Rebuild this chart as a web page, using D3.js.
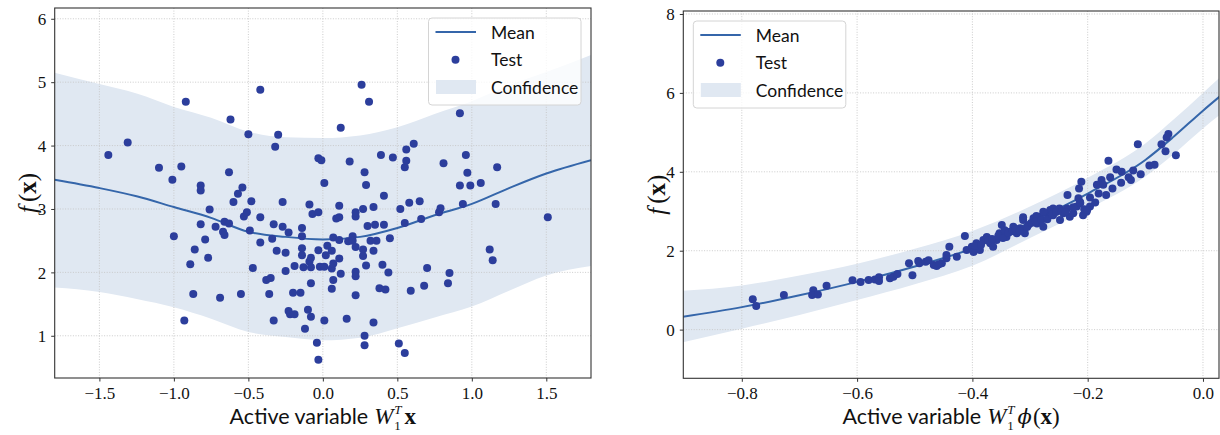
<!DOCTYPE html>
<html><head><meta charset="utf-8">
<script src="https://cdn.jsdelivr.net/npm/d3@7"></script>
<style>body{margin:0;background:#fff}svg{display:block}</style>
</head><body><svg id="c" width="1220" height="435"></svg>
<script>
// ---------------- DATA ----------------
const legendLabels = ["Mean", "Test", "Confidence"];

// Left panel
const leftXTicks = [-1.5, -1.0, -0.5, 0.0, 0.5, 1.0, 1.5];
const leftXTickLabels = ["\u22121.5", "\u22121.0", "\u22120.5", "0.0", "0.5", "1.0", "1.5"];
const leftYTicks = [1, 2, 3, 4, 5, 6];
const leftYTickLabels = ["1", "2", "3", "4", "5", "6"];
const leftCurveX = [-1.8, -1.5, -1.25, -1.0, -0.75, -0.5, -0.25, 0.0, 0.25, 0.5, 0.75, 1.0, 1.25, 1.5, 1.8];
const leftMean  = [3.46, 3.33, 3.20, 3.03, 2.86, 2.64, 2.56, 2.52, 2.56, 2.70, 2.90, 3.08, 3.33, 3.56, 3.77];
const leftUpper = [5.15, 4.97, 4.82, 4.61, 4.44, 4.22, 4.13, 4.12, 4.16, 4.29, 4.50, 4.70, 4.95, 5.16, 5.43];
const leftLower = [1.76, 1.69, 1.58, 1.45, 1.27, 1.06, 0.98, 0.93, 0.97, 1.12, 1.29, 1.46, 1.71, 1.95, 2.10];
const leftTestX = [-1.44,-1.31,-1.10,-1.01,-0.95,-0.92,-1.00,-0.86,-0.89,-0.87,-0.93,-0.82,-0.82,-0.82,-0.79,-0.77,-0.76,-0.72,-0.69,-0.67,
  -0.66,-0.66,-0.63,-0.63,-0.62,-0.60,-0.57,-0.55,-0.54,-0.53,-0.51,-0.50,-0.49,-0.48,-0.47,-0.42,-0.42,-0.42,-0.38,-0.35,
  -0.36,-0.34,-0.33,-0.33,-0.32,-0.31,-0.30,-0.27,-0.27,-0.25,-0.25,-0.23,-0.23,-0.22,-0.19,-0.20,-0.19,-0.15,-0.14,-0.14,
  -0.14,-0.14,-0.13,-0.12,-0.10,-0.09,-0.09,-0.08,-0.08,-0.08,-0.08,-0.07,-0.03,-0.04,-0.03,-0.03,-0.01,-0.03,-0.02,0.01,
  0.01,0.01,0.02,0.03,0.06,0.06,0.07,0.06,0.07,0.07,0.09,0.11,0.11,0.11,0.11,0.12,0.12,0.16,0.17,0.18,
  0.20,0.20,0.22,0.22,0.22,0.22,0.22,0.22,0.26,0.27,0.27,0.27,0.28,0.28,0.28,0.29,0.29,0.30,0.31,0.32,
  0.34,0.34,0.34,0.35,0.36,0.38,0.39,0.40,0.41,0.41,0.42,0.44,0.45,0.47,0.51,0.52,0.55,0.55,0.55,0.56,
  0.56,0.58,0.59,0.61,0.65,0.66,0.68,0.70,0.78,0.79,0.81,0.84,0.85,0.92,0.92,0.94,0.96,0.97,0.99,1.06,
  1.12,1.14,1.16,1.17,1.51];
const leftTestY = [3.85,4.05,3.65,3.46,3.67,4.69,2.57,2.36,2.13,1.66,1.24,3.37,3.29,2.76,2.52,2.23,2.99,2.72,1.60,2.64,
  2.59,2.80,2.77,3.58,4.41,3.11,3.24,1.66,3.34,2.88,2.95,4.18,2.66,3.12,2.07,2.47,4.88,2.87,1.88,1.91,
  1.66,2.53,2.76,1.24,3.98,2.34,4.17,3.11,2.72,2.31,2.02,2.63,1.39,1.34,1.34,1.68,2.10,1.68,2.70,2.57,
  2.38,2.27,2.08,1.11,1.41,2.17,3.07,1.83,1.30,2.23,2.08,2.92,2.95,0.89,2.35,3.80,3.77,0.62,2.09,2.09,
  1.24,3.41,2.27,2.42,2.34,1.74,1.88,2.06,2.14,2.55,2.85,2.87,3.05,2.51,2.22,1.98,4.28,1.27,2.49,3.75,
  2.57,2.50,2.88,2.95,2.40,2.01,1.94,1.64,4.96,3.00,2.36,2.26,1.00,0.85,3.58,3.38,2.11,2.73,4.69,2.50,
  3.03,2.34,1.21,2.75,2.50,1.75,3.85,2.12,3.21,2.75,1.73,2.00,2.54,3.81,0.88,3.00,2.78,0.73,3.66,3.76,
  3.94,3.10,1.71,4.03,3.12,2.84,1.79,2.07,2.95,3.01,3.72,1.83,1.99,4.51,3.37,3.08,3.85,3.57,3.37,3.41,
  2.36,2.19,3.08,3.66,2.87];

// Right panel
const rightXTicks = [-0.8, -0.6, -0.4, -0.2, 0.0];
const rightXTickLabels = ["\u22120.8", "\u22120.6", "\u22120.4", "\u22120.2", "0.0"];
const rightYTicks = [0, 2, 4, 6, 8];
const rightYTickLabels = ["0", "2", "4", "6", "8"];
const rightCurveX = [-0.905, -0.8, -0.7, -0.6, -0.5, -0.4, -0.3, -0.2, -0.1, -0.05, 0.0, 0.03];
const rightMean  = [0.32, 0.57, 0.87, 1.21, 1.60, 2.06, 2.72, 3.45, 4.30, 4.90, 5.55, 5.92];
const rightUpper = [0.98, 1.12, 1.37, 1.67, 2.05, 2.50, 3.12, 3.85, 4.72, 5.34, 6.00, 6.40];
const rightLower = [-0.33, 0.02, 0.37, 0.75, 1.15, 1.62, 2.32, 3.05, 3.88, 4.46, 5.10, 5.45];
const rightTestX = [-0.781,-0.775,-0.727,-0.676,-0.678,-0.668,-0.653,-0.608,-0.594,-0.580,-0.569,-0.562,-0.562,-0.543,-0.537,-0.530,-0.510,-0.504,-0.494,-0.492,
  -0.481,-0.476,-0.467,-0.462,-0.453,-0.458,-0.445,-0.440,-0.445,-0.427,-0.413,-0.410,-0.401,-0.398,-0.393,-0.387,-0.381,-0.375,-0.369,-0.364,
  -0.358,-0.353,-0.349,-0.344,-0.341,-0.335,-0.329,-0.323,-0.317,-0.312,-0.309,-0.303,-0.294,-0.288,-0.283,-0.277,-0.271,-0.265,-0.260,-0.254,
  -0.248,-0.242,-0.236,-0.231,-0.225,-0.219,-0.213,-0.208,-0.202,-0.196,-0.113,-0.164,-0.060,-0.063,-0.072,-0.065,-0.047,-0.093,-0.084,-0.108,
  -0.121,-0.129,-0.125,-0.141,-0.150,-0.142,-0.161,-0.157,-0.176,-0.184,-0.173,-0.168,-0.211,-0.215,-0.235,-0.187,-0.196,-0.181,-0.216,-0.213,
  -0.206,-0.201,-0.225,-0.260,-0.249,-0.265,-0.277,-0.289,-0.312,-0.395,-0.385,-0.372,-0.366,-0.355,-0.347,-0.338,-0.330,-0.325,-0.318,-0.305,
  -0.298,-0.290,-0.280,-0.270,-0.262,-0.255,-0.245,-0.238];
const rightTestY = [0.77,0.60,0.88,1.00,0.88,0.89,1.11,1.25,1.21,1.26,1.27,1.33,1.23,1.30,1.34,1.41,1.68,1.38,1.74,1.68,
  1.72,1.76,1.64,1.61,1.68,1.66,1.81,2.10,1.89,1.85,2.37,2.02,2.10,1.97,2.19,2.02,2.27,2.35,2.19,2.10,
  2.27,2.44,2.65,2.52,2.35,2.48,2.61,2.44,2.57,2.78,2.44,2.65,2.82,2.69,2.86,2.61,2.95,3.03,2.90,3.03,
  2.78,2.95,3.07,2.86,2.95,3.12,3.20,2.90,2.99,3.12,4.70,4.28,4.96,4.87,4.70,4.52,4.42,4.16,4.18,3.94,
  4.03,3.86,3.79,4.00,4.06,3.72,3.86,3.58,3.79,3.67,3.67,3.41,3.75,3.58,3.41,3.22,3.35,3.45,3.33,3.23,
  3.05,3.03,3.10,3.07,3.07,2.99,2.99,2.88,2.85,2.12,2.15,2.25,2.30,2.38,2.32,2.45,2.50,2.55,2.50,2.60,
  2.70,2.74,2.78,2.80,2.92,2.98,3.00,2.98];

// ---------------- STYLE / LAYOUT ----------------
const C = {point:"#2c3e9c", mean:"#3566aa", band:"#e0e8f2", grid:"#c6c6c6", spine:"#333", text:"#111"};
const SERIF = "'Liberation Serif','DejaVu Serif',serif";
const SANS = "Lato,'Open Sans',sans-serif";

const svg = d3.select("#c");

const subSup = [{t:"T",fam:SERIF,size:13,style:"italic",dy:-10,gap:1},{t:"1",fam:SERIF,size:13,dy:6,stack:true}];
const panels = [
  {id:"L", box:{x0:54.7,x1:591,y0:8,y1:378}, xDom:[-1.8,1.8], yDom:[0.334,6.17],
   xt:leftXTicks, xtl:leftXTickLabels, yt:leftYTicks, ytl:leftYTickLabels,
   cx:leftCurveX, mean:leftMean, up:leftUpper, lo:leftLower, px:leftTestX, py:leftTestY,
   legend:{side:"right"},
   xlabel:[{t:"Active variable",fam:SANS,size:21.5},{t:"W",fam:SERIF,size:23,style:"italic",gap:6},
           ...subSup, {t:"x",fam:SERIF,size:23,weight:"bold",gap:3}]},
  {id:"R", box:{x0:683.3,x1:1219,y0:11,y1:378.3}, xDom:[-0.9015,0.0278], yDom:[-1.234,8.076],
   xt:rightXTicks, xtl:rightXTickLabels, yt:rightYTicks, ytl:rightYTickLabels,
   cx:rightCurveX, mean:rightMean, up:rightUpper, lo:rightLower, px:rightTestX, py:rightTestY,
   legend:{side:"left"},
   xlabel:[{t:"Active variable",fam:SANS,size:21.5},{t:"W",fam:SERIF,size:23,style:"italic",gap:6},
           ...subSup,
           {t:"\u03D5",fam:"'DejaVu Serif',serif",size:21,style:"italic",gap:3},{t:"(",fam:SERIF,size:23,gap:1},
           {t:"x",fam:SERIF,size:23,weight:"bold"},{t:")",fam:SERIF,size:23}]}
];

const ylabelSegs = [{t:"f",fam:SERIF,size:25,style:"italic"},{t:"(",fam:SERIF,size:25,gap:4},
                    {t:"x",fam:SERIF,size:25,weight:"bold"},{t:")",fam:SERIF,size:25}];

function mathLabel(parent, segs){
  const g = parent.append("g");
  let x = 0, prevX = 0;
  segs.forEach(s => {
    const sx = s.stack ? prevX : x + (s.gap||0);
    const t = g.append("text").attr("x", sx).attr("y", s.dy||0)
      .attr("font-family", s.fam).attr("font-size", s.size)
      .attr("font-style", s.style||"normal").attr("font-weight", s.weight||"normal")
      .attr("fill", C.text).text(s.t);
    const w = t.node().getComputedTextLength();
    x = s.stack ? Math.max(x, sx + w) : sx + w;
    prevX = sx;
  });
  return {g, width:x};
}

panels.forEach(p => {
  const b = p.box;
  const x = d3.scaleLinear().domain(p.xDom).range([b.x0, b.x1]);
  const y = d3.scaleLinear().domain(p.yDom).range([b.y1, b.y0]);
  const clipId = "clip" + p.id;
  svg.append("clipPath").attr("id", clipId).append("rect")
    .attr("x", b.x0).attr("y", b.y0).attr("width", b.x1-b.x0).attr("height", b.y1-b.y0);
  const plot = svg.append("g").attr("clip-path", `url(#${clipId})`);

  // confidence band
  const area = d3.area().x((d,i)=>x(p.cx[i])).y0((d,i)=>y(p.lo[i])).y1((d,i)=>y(p.up[i])).curve(d3.curveMonotoneX);
  plot.append("path").datum(p.cx).attr("d", area).attr("fill", C.band);

  // grid
  plot.selectAll(".gx").data(p.xt).join("line").attr("class","gx")
    .attr("x1", d=>x(d)).attr("x2", d=>x(d)).attr("y1", b.y0).attr("y2", b.y1)
    .attr("stroke", C.grid).attr("stroke-width", 0.9).attr("stroke-dasharray", "1,1.6");
  plot.selectAll(".gy").data(p.yt).join("line").attr("class","gy")
    .attr("y1", d=>y(d)).attr("y2", d=>y(d)).attr("x1", b.x0).attr("x2", b.x1)
    .attr("stroke", C.grid).attr("stroke-width", 0.9).attr("stroke-dasharray", "1,1.6");

  // mean line
  const line = d3.line().x((d,i)=>x(p.cx[i])).y((d,i)=>y(p.mean[i])).curve(d3.curveMonotoneX);
  plot.append("path").datum(p.cx).attr("d", line).attr("fill","none").attr("stroke", C.mean).attr("stroke-width", 2);

  // test points
  plot.selectAll(".pt").data(p.px).join("circle").attr("class","pt")
    .attr("cx", d=>x(d)).attr("cy", (d,i)=>y(p.py[i])).attr("r", 4).attr("fill", C.point);

  // axes
  const ax = svg.append("g").attr("transform", `translate(0,${b.y1})`)
    .call(d3.axisBottom(x).tickValues(p.xt).tickFormat((d,i)=>p.xtl[i]).tickSize(3.5).tickPadding(5));
  const ay = svg.append("g").attr("transform", `translate(${b.x0},0)`)
    .call(d3.axisLeft(y).tickValues(p.yt).tickFormat((d,i)=>p.ytl[i]).tickSize(3.5).tickPadding(5));
  [ax, ay].forEach(a => {
    a.select(".domain").remove();
    a.selectAll(".tick line").attr("stroke", C.spine).attr("stroke-width", 1);
    a.selectAll(".tick text").attr("font-family", SERIF).attr("font-size", 17).attr("fill", C.text);
  });
  ay.selectAll(".tick text").attr("dy", "0.34em");

  // spines
  svg.append("rect").attr("x", b.x0).attr("y", b.y0).attr("width", b.x1-b.x0).attr("height", b.y1-b.y0)
    .attr("fill","none").attr("stroke", C.spine).attr("stroke-width", 1.1);

  // legend
  const lw = 152.5, lh = 87;
  const lx = p.legend.side === "right" ? b.x1 - 10 - lw : b.x0 + 10;
  const ly = b.y0 + 10;
  const lg = svg.append("g").attr("transform", `translate(${lx},${ly})`);
  lg.append("rect").attr("width", lw).attr("height", lh).attr("rx", 3.5)
    .attr("fill", "#fff").attr("fill-opacity", 0.8).attr("stroke", "#d4d4d4").attr("stroke-width", 1);
  lg.append("line").attr("x1", 7).attr("x2", 47.5).attr("y1", 14).attr("y2", 14)
    .attr("stroke", C.mean).attr("stroke-width", 2);
  lg.append("circle").attr("cx", 27).attr("cy", 41.7).attr("r", 4).attr("fill", C.point);
  lg.append("rect").attr("x", 7.5).attr("y", 62).attr("width", 40).attr("height", 14).attr("fill", C.band);
  legendLabels.forEach((t,i) => {
    lg.append("text").attr("x", 62.5).attr("y", 21 + i*27.4).attr("font-family", SANS)
      .attr("font-size", 17.5).attr("fill", C.text).text(t);
  });

  // x label
  const xl = mathLabel(svg, p.xlabel);
  xl.g.attr("transform", `translate(${(b.x0+b.x1)/2 - xl.width/2},424)`);

  // y label
  const yg = svg.append("g");
  const yl = mathLabel(yg, ylabelSegs);
  const bx = b.x0 - 18.5;
  yg.attr("transform", `translate(${bx},${(b.y0+b.y1)/2}) rotate(-90)`);
  yl.g.attr("transform", `translate(${-yl.width/2},0)`);
});
</script></body></html>
